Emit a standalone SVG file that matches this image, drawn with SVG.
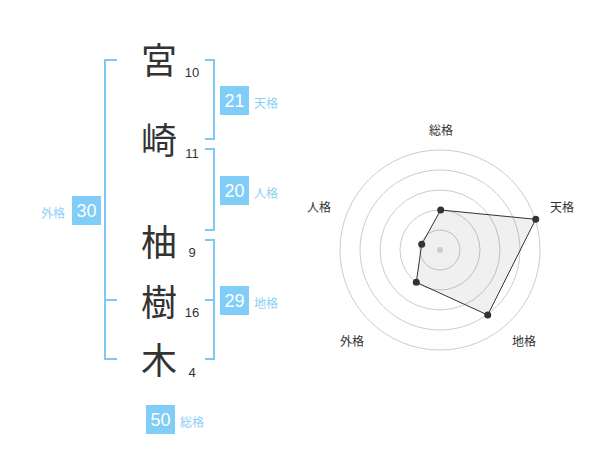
<svg xmlns="http://www.w3.org/2000/svg" width="600" height="470" viewBox="0 0 600 470">
<style>
.ch{font-family:"Noto Sans CJK JP","Noto Sans CJK SC",sans-serif;font-size:36px;fill:#333;text-anchor:middle}
.num{font-family:"Liberation Sans",Arial,sans-serif;font-size:13px;fill:#333;text-anchor:middle}
.box{fill:#80cdf7}
.bt{font-family:"Liberation Sans",Arial,sans-serif;font-size:18px;fill:#fff;text-anchor:middle}
.lb{font-family:"Noto Sans CJK JP","Noto Sans CJK SC",sans-serif;font-size:12px;fill:#8dd0f5}
.br{fill:none;stroke:#80c8f2;stroke-width:2}
.ring{fill:none;stroke:#cccccc;stroke-width:1}
.rl{font-family:"Noto Sans CJK JP","Noto Sans CJK SC",sans-serif;font-size:12px;fill:#333;text-anchor:middle}
</style>
<rect width="600" height="470" fill="#fff"/>
<g id="characters">
<text class="ch" x="159" y="74">宮</text>
<text class="ch" x="159" y="154">崎</text>
<text class="ch" x="159" y="256">柚</text>
<text class="ch" x="159" y="316">樹</text>
<text class="ch" x="159" y="374">木</text>
<text class="num" x="192" y="77">10</text>
<text class="num" x="192" y="158">11</text>
<text class="num" x="192" y="257">9</text>
<text class="num" x="192" y="317">16</text>
<text class="num" x="192" y="377">4</text>
</g>
<g id="connectors">
<path class="br" d="M117,60 H105 V359 H117 M105,300 H117"/>
<path class="br" d="M205,60 H214 V139 H205"/>
<path class="br" d="M205,149 H214 V230 H205"/>
<path class="br" d="M205,240 H214 V359 H205 M205,300 H214"/>
</g>
<g id="tenkaku">
<rect class="box" x="220" y="86" width="29" height="29"/>
<text class="bt" x="234.5" y="107">21</text>
<text class="lb" x="254" y="108">天格</text>
</g>
<g id="jinkaku">
<rect class="box" x="220" y="176" width="29" height="29"/>
<text class="bt" x="234.5" y="197">20</text>
<text class="lb" x="254" y="198">人格</text>
</g>
<g id="chikaku">
<rect class="box" x="220" y="286" width="29" height="29"/>
<text class="bt" x="234.5" y="307">29</text>
<text class="lb" x="254" y="308">地格</text>
</g>
<g id="gaikaku">
<rect class="box" x="72" y="196" width="29" height="29"/>
<text class="bt" x="86.5" y="217">30</text>
<text class="lb" x="41" y="218">外格</text>
</g>
<g id="soukaku">
<rect class="box" x="146" y="405" width="29" height="29"/>
<text class="bt" x="160.5" y="426">50</text>
<text class="lb" x="180" y="427">総格</text>
</g>
<g id="radar">
<circle class="ring" cx="440" cy="250" r="20"/>
<circle class="ring" cx="440" cy="250" r="40"/>
<circle class="ring" cx="440" cy="250" r="60"/>
<circle class="ring" cx="440" cy="250" r="80"/>
<circle class="ring" cx="440" cy="250" r="100"/>
<polygon points="440.7,210 535.7,219.3 487.7,315 416.3,282.3 421.7,244.3" fill="#000" fill-opacity="0.06" stroke="#333" stroke-width="1"/>
<circle cx="440" cy="250" r="3" fill="#ccc"/>
<g fill="#333">
<circle cx="440.7" cy="210" r="3.5"/>
<circle cx="535.7" cy="219.3" r="3.5"/>
<circle cx="487.7" cy="315" r="3.5"/>
<circle cx="416.3" cy="282.3" r="3.5"/>
<circle cx="421.7" cy="244.3" r="3.5"/>
</g>
<text class="rl" x="441" y="135">総格</text>
<text class="rl" x="562" y="212">天格</text>
<text class="rl" x="524" y="346">地格</text>
<text class="rl" x="352" y="346">外格</text>
<text class="rl" x="319" y="212">人格</text>
</g>
</svg>
